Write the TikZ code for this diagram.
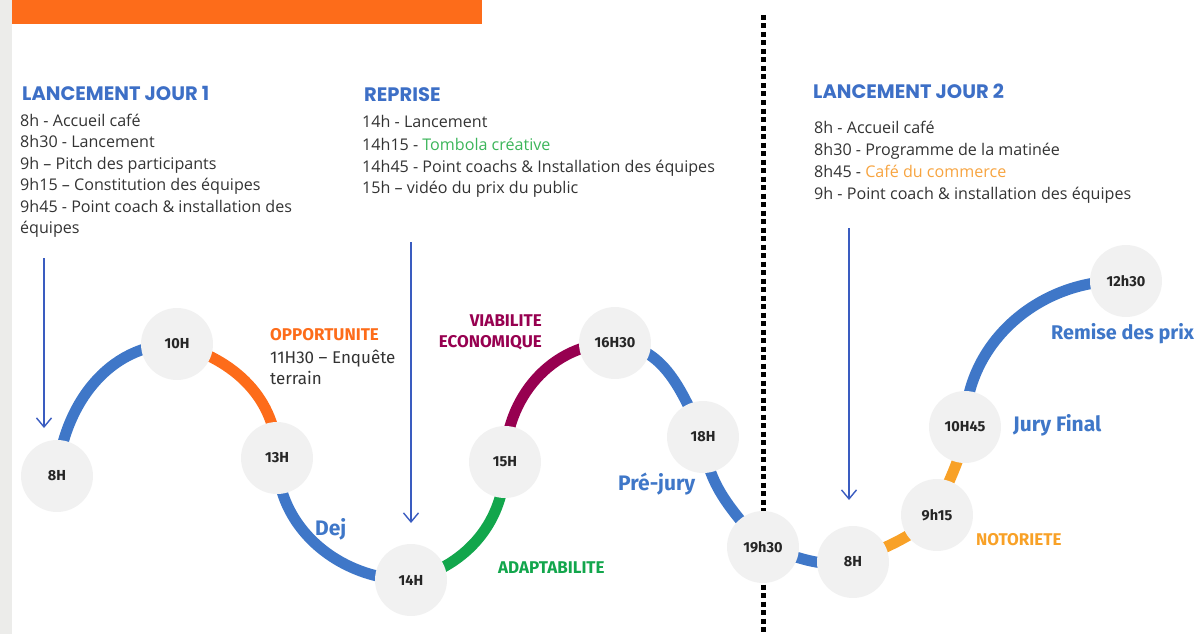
\documentclass[tikz,border=0pt]{standalone}
\usepackage{fontspec}
\setmainfont{Open Sans}
\newfontfamily\headfont{Poppins}
\newfontfamily\labfont{Fira Sans}
\usetikzlibrary{arrows.meta}
\definecolor{barorange}{HTML}{FD6C1A}
\definecolor{strip}{HTML}{ECECEA}
\definecolor{ablue}{HTML}{3F77C8}
\definecolor{hblue}{HTML}{3D6FC6}
\definecolor{arrblue}{HTML}{3A5CC0}
\definecolor{aorange}{HTML}{FD6C1A}
\definecolor{amber}{HTML}{F8A127}
\definecolor{apurple}{HTML}{970050}
\definecolor{agreen}{HTML}{12A64C}
\definecolor{circ}{HTML}{F1F1F1}
\definecolor{txt}{HTML}{333333}
\definecolor{tgreen}{HTML}{3CB55A}
\definecolor{torange}{HTML}{F7A440}
\pgfdeclarelayer{bg}
\pgfsetlayers{bg,main}
\begin{document}
\begin{tikzpicture}[x=1pt,y=1pt,
  tc/.style={circle,fill=circ,minimum size=72pt,inner sep=0pt,font=\labfont\bfseries\fontsize{14.5}{16}\selectfont,text=black!85},
  seg/.style={line width=11pt},
  body/.style={anchor=base west,inner sep=0pt,font=\fontsize{16.1}{18}\selectfont,text=txt},
  head/.style={anchor=base west,inner sep=0pt,font=\headfont\bfseries\fontsize{19.5}{22}\selectfont,text=hblue},
  cat/.style={inner sep=0pt,font=\labfont\bfseries\fontsize{17}{19}\selectfont},
  big/.style={anchor=base west,inner sep=0pt,font=\labfont\bfseries\fontsize{21}{24}\selectfont,text=ablue},
  arr/.style={draw=arrblue,line width=1.4pt,-{Straight Barb[length=9pt,width=15pt]}}
]
\useasboundingbox (0,0) rectangle (1200,-634);
% background pieces
\fill[strip] (0,0) rectangle (12,-634);
\fill[barorange] (12,0) rectangle (482,-24);
\coordinate (dtop) at (763,-15);
\coordinate (dbot) at (763,-634);
\draw[line width=5pt,dash pattern=on 5pt off 3.5pt] (dtop) -- (dbot);

% circles
\node[tc] (c8) at (57,-476) {8H};
\node[tc] (c10) at (177,-344) {10H};
\node[tc] (c13) at (277,-458) {13H};
\node[tc] (c14) at (411,-580) {14H};
\node[tc] (c15) at (505,-462) {15H};
\node[tc] (c1630) at (615,-343) {16H30};
\node[tc] (c18) at (703,-437) {18H};
\node[tc] (c1930) at (763,-547) {19h30};
\node[tc] (d8) at (853,-562) {8H};
\node[tc] (d915) at (937,-515) {9h15};
\node[tc] (d1045) at (965,-427) {10H45};
\node[tc] (d1230) at (1126,-281) {12h30};

\begin{pgfonlayer}{bg}
\draw[seg,ablue] (c8.center) to[out=85,in=180] (c10.center);
\draw[seg,aorange] (c10.center) to[out=-15,in=90] (c13.center);
\draw[seg,ablue] (c13.center) to[out=-90,in=180] (c14.center);
\draw[seg,agreen] (c14.center) to[out=15,in=-90] (c15.center);
\draw[seg,apurple] (c15.center) to[out=90,in=180] (c1630.center);
\draw[seg,ablue] (c1630.center) to[out=-5,in=115] (c18.center);
\draw[seg,ablue] (c18.center) to[out=-85,in=130] (c1930.center);
\draw[seg,ablue] (c1930.center) to[out=-15,in=190] (d8.center);
\draw[seg,amber] (d8.center) to[out=25,in=-140] (d915.center);
\draw[seg,amber] (d915.center) to[out=75,in=-95] (d1045.center);
\draw[seg,ablue] (d1045.center) to[out=90,in=178] (d1230.center);
\end{pgfonlayer}

% arrows
\coordinate (a1s) at (44,-258); \coordinate (a1e) at (44,-428);
\coordinate (a2s) at (411,-242); \coordinate (a2e) at (411,-523);
\coordinate (a3s) at (849,-228); \coordinate (a3e) at (849,-500);
\draw[arr] (a1s) -- (a1e);
\draw[arr] (a2s) -- (a2e);
\draw[arr] (a3s) -- (a3e);

% day 1 text
\node[head] (h1) at (22,-100) {LANCEMENT JOUR 1};
\node[body] (l1) at (20,-126) {8h - Accueil café};
\node[body] (l2) at (20,-147.5) {8h30 - Lancement};
\node[body] (l3) at (20,-169) {9h – Pitch des participants};
\node[body] (l4) at (20,-190.5) {9h15 – Constitution des équipes};
\node[body] (l5) at (20,-212) {9h45 - Point coach \& installation des};
\node[body] (l6) at (20,-233.5) {équipes};

% reprise
\node[head] (h2) at (364,-102) {REPRISE};
\node[body] (r1) at (362,-128) {14h - Lancement};
\node[body] (r2) at (362,-150) {14h15 - \textcolor{tgreen}{Tombola créative}};
\node[body] (r3) at (362,-172) {14h45 - Point coachs \& Installation des équipes};
\node[body] (r4) at (362,-193.5) {15h – vidéo du prix du public};

% day 2
\node[head] (h3) at (813,-99) {LANCEMENT JOUR 2};
\node[body] (s1) at (814,-133) {8h - Accueil café};
\node[body] (s2) at (814,-155) {8h30 - Programme de la matinée};
\node[body] (s3) at (814,-177) {8h45 - \textcolor{torange}{Café du commerce}};
\node[body] (s4) at (814,-199) {9h - Point coach \& installation des équipes};

% category labels
\node[cat,anchor=base west,text=aorange] (o1) at (270,-340) {OPPORTUNITE};
\node[anchor=base west,inner sep=0pt,font=\labfont\fontsize{17}{19}\selectfont,text=txt] (o2) at (270,-363) {11H30 – Enquête};
\node[anchor=base west,inner sep=0pt,font=\labfont\fontsize{17}{19}\selectfont,text=txt] (o3) at (270,-384) {terrain};
\node[cat,anchor=base east,text=apurple] (v1) at (542,-326) {VIABILITE};
\node[cat,anchor=base east,text=apurple] (v2) at (542,-347) {ECONOMIQUE};
\node[cat,anchor=base west,text=agreen] (ad) at (498,-573) {ADAPTABILITE};
\node[cat,anchor=base west,text=amber] (no) at (976,-545) {NOTORIETE};
\node[big] (dej) at (315,-535) {Dej};
\node[big] (pj) at (618,-490) {Pré-jury};
\node[big] (jf) at (1013,-431) {Jury Final};
\node[big,font=\labfont\bfseries\fontsize{19.8}{22}\selectfont] (rp) at (1051,-339) {Remise des prix};
\end{tikzpicture}
\end{document}
